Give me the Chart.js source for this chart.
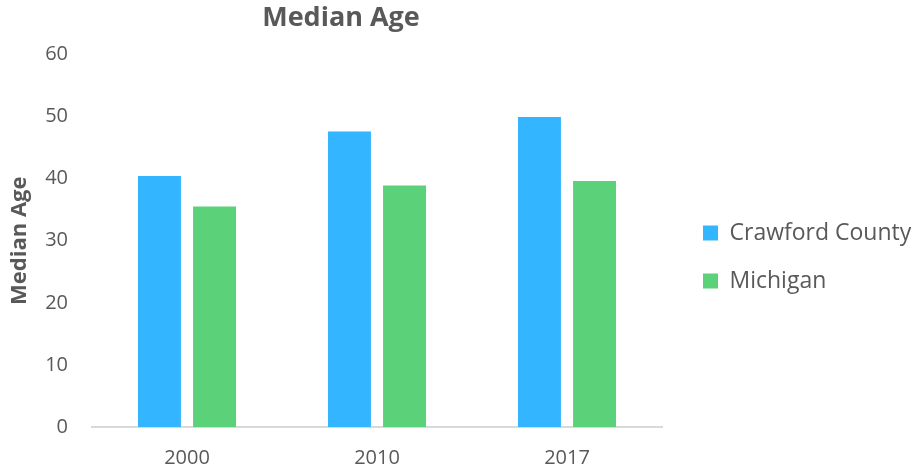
<!DOCTYPE html>
<html>
<head>
<meta charset="utf-8">
<script src="https://cdn.jsdelivr.net/npm/chart.js@4"></script>
<style>
  html, body { margin: 0; padding: 0; background: #fff; }
  #box { width: 914px; height: 472px; }
</style>
</head>
<body>
<div id="box"><canvas id="grafico"></canvas></div>
<script>
const anos = ['2000', '2010', '2017'];
const crawford = [40.4, 47.6, 49.9];
const michigan = [35.5, 38.9, 39.6];
const ticksY = [0, 10, 20, 30, 40, 50, 60];

const cinza = '#595959';
const fonte = 'Open Sans';

// Excel centers the title over plot + axes, and gives the legend a fixed column
const ajusteLayout = {
    id: 'ajusteLayout',
    beforeLayout(chart) {
        const lg = chart.legend;
        if (lg && !lg._fixo) {
            const fitOriginal = lg.fit.bind(lg);
            lg.fit = function () {
                fitOriginal();
                this.width = 236;
            };
            lg._fixo = true;
        }
    },
    afterLayout(chart) {
        chart.titleBlock.left = 0;
        chart.titleBlock.right = 682;
        // legend sits a bit below the vertical middle
        chart.legend.top += 42;
    }
};

function main() {
    const ctx = document.getElementById('grafico').getContext('2d');
    window.grafico = new Chart(ctx, {
        type: 'bar',
        data: {
            labels: anos,
            datasets: [
                {
                    label: 'Crawford County',
                    data: crawford,
                    backgroundColor: '#33B5FF',
                    borderWidth: 0,
                    categoryPercentage: 0.58,
                    barPercentage: 0.78
                },
                {
                    label: 'Michigan',
                    data: michigan,
                    backgroundColor: '#5BD17A',
                    borderWidth: 0,
                    categoryPercentage: 0.58,
                    barPercentage: 0.78
                }
            ]
        },
        options: {
            animation: false,
            responsive: true,
            maintainAspectRatio: false,
            layout: { padding: 0 },
            plugins: {
                title: {
                    display: true,
                    text: 'Median Age',
                    color: cinza,
                    font: { family: fonte, size: 27, weight: 'bold' },
                    padding: { top: 2, bottom: 20 }
                },
                legend: {
                    position: 'right',
                    labels: {
                        color: cinza,
                        font: { family: fonte, size: 23 },
                        boxWidth: 15,
                        boxHeight: 15,
                        padding: 25
                    }
                },
                tooltip: { enabled: false }
            },
            scales: {
                x: {
                    grid: { display: false, drawTicks: false },
                    border: { display: true, color: '#D9D9D9', width: 2 },
                    ticks: {
                        color: cinza,
                        font: { family: fonte, size: 20 },
                        padding: 19
                    },
                    afterFit: (s) => { s.height = 45; }
                },
                y: {
                    min: 0,
                    max: 60,
                    afterBuildTicks: (s) => { s.ticks = ticksY.map(v => ({ value: v })); },
                    grid: { display: false, drawTicks: false },
                    border: { display: false },
                    ticks: {
                        color: cinza,
                        font: { family: fonte, size: 20 },
                        padding: 24
                    },
                    title: {
                        display: true,
                        text: 'Median Age',
                        color: cinza,
                        font: { family: fonte, size: 22, weight: 'bold' },
                        padding: { top: 7, bottom: 12 }
                    },
                    afterFit: (s) => { s.width = 92; }
                },
                y2: {
                    position: 'right',
                    display: true,
                    grid: { display: false, drawTicks: false },
                    border: { display: false },
                    ticks: { display: false },
                    afterFit: (s) => { s.width = 16; }
                }
            }
        },
        plugins: [ajusteLayout]
    });
}

window.addEventListener('DOMContentLoaded', main);
</script>
</body>
</html>
